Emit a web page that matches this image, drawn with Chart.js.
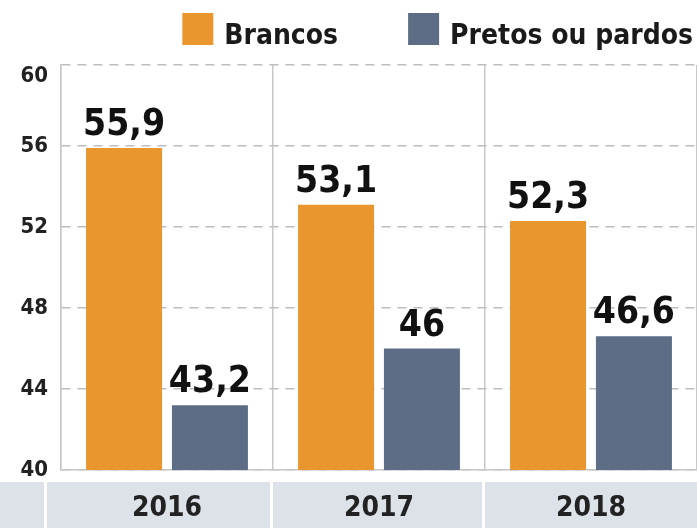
<!DOCTYPE html>
<html>
<head>
<meta charset="utf-8">
<script src="https://cdn.jsdelivr.net/npm/chart.js@4"></script>
<style>
  html, body { margin: 0; padding: 0; background: #fff; }
  #wrap { width: 697px; height: 528px; }
</style>
</head>
<body>
<div id="wrap"><canvas id="chart" width="697" height="528"></canvas></div>
<script>
const years = ['2016', '2017', '2018'];
const brancos = [55.9, 53.1, 52.3];
const pretosPardos = [43.2, 46, 46.6];
const yTicks = [40, 44, 48, 52, 56, 60];

const FONT = "'Liberation Sans Narrow', 'DejaVu Sans Condensed', 'Roboto', sans-serif";

// gray band behind the year labels
const bandPlugin = {
    id: 'band',
    beforeDraw(chart) {
        const ctx = chart.ctx;
        const x = chart.scales.x;
        const top = chart.chartArea.bottom + 12;
        ctx.save();
        ctx.fillStyle = '#dde2e8';
        ctx.fillRect(0, top, chart.width, chart.height - top);
        ctx.fillStyle = '#ffffff';
        ctx.fillRect(44, top, 3, chart.height - top);
        for (let i = 1; i < years.length; i++) {
            const bx = (x.getPixelForValue(i - 1) + x.getPixelForValue(i)) / 2;
            ctx.fillRect(bx - 3, top, 3, chart.height - top);
        }
        ctx.restore();
    }
};

// legend drawn by hand, right aligned, with a wide gap between items
const topLegend = {
    id: 'topLegend',
    afterDraw(chart) {
        const ctx = chart.ctx;
        ctx.save();
        ctx.font = 'bold 28px ' + FONT;
        ctx.textBaseline = 'alphabetic';
        ctx.textAlign = 'left';
        let right = 693;
        const items = chart.data.datasets.slice().reverse();
        items.forEach(ds => {
            const w = ctx.measureText(ds.label).width;
            const tx = right - w;
            const bx = tx - 11 - 31;
            ctx.fillStyle = ds.backgroundColor;
            ctx.fillRect(bx, 13, 31, 32);
            ctx.fillStyle = '#1a1a1a';
            ctx.fillText(ds.label, tx, 44);
            right = bx - 70;
        });
        ctx.restore();
    }
};

// value labels on top of each bar
const valueLabels = {
    id: 'valueLabels',
    afterDatasetsDraw(chart) {
        const ctx = chart.ctx;
        ctx.save();
        ctx.font = 'bold 37px ' + FONT;
        ctx.fillStyle = '#111';
        ctx.textAlign = 'center';
        ctx.textBaseline = 'alphabetic';
        chart.data.datasets.forEach((ds, di) => {
            chart.getDatasetMeta(di).data.forEach((bar, i) => {
                const txt = String(ds.data[i]).replace('.', ',');
                ctx.fillText(txt, bar.x, bar.y - 13);
            });
        });
        ctx.restore();
    }
};

new Chart(document.getElementById('chart'), {
    type: 'bar',
    data: {
        labels: years,
        datasets: [
            {
                label: 'Brancos',
                data: brancos,
                backgroundColor: '#e9962f',
                categoryPercentage: 0.81,
                barPercentage: 0.885
            },
            {
                label: 'Pretos ou pardos',
                data: pretosPardos,
                backgroundColor: '#5d6d86',
                categoryPercentage: 0.81,
                barPercentage: 0.885
            }
        ]
    },
    options: {
        responsive: false,
        animation: false,
        layout: { padding: { left: 0, right: 0, top: 65, bottom: 0 } },
        plugins: {
            legend: { display: false },
            tooltip: { enabled: false }
        },
        scales: {
            x: {
                grid: { color: '#c8c8c8', lineWidth: 1.5, drawTicks: false, offset: true },
                border: { color: '#c8c8c8', width: 1.5 },
                ticks: {
                    color: '#222',
                    padding: 22,
                    font: { family: FONT, weight: 'bold', size: 28 }
                },
                afterFit: s => { s.height = 58; }
            },
            y: {
                min: 40,
                max: 60,
                afterBuildTicks: s => { s.ticks = yTicks.map(v => ({ value: v })); },
                grid: { color: '#bdbdbd', lineWidth: 1.5, drawTicks: false },
                border: { display: true, color: '#c8c8c8', width: 1.5, dash: [9, 7] },
                ticks: {
                    color: '#222',
                    padding: 13,
                    font: { family: FONT, weight: 'bold', size: 22, lineHeight: 1.0 },
                    // top label sits just under its gridline, as in the print
                    callback: v => v === 60 ? [' ', '60'] : String(v)
                },
                afterFit: s => { s.width = 61; }
            }
        }
    },
    plugins: [bandPlugin, valueLabels, topLegend]
});
</script>
</body>
</html>
